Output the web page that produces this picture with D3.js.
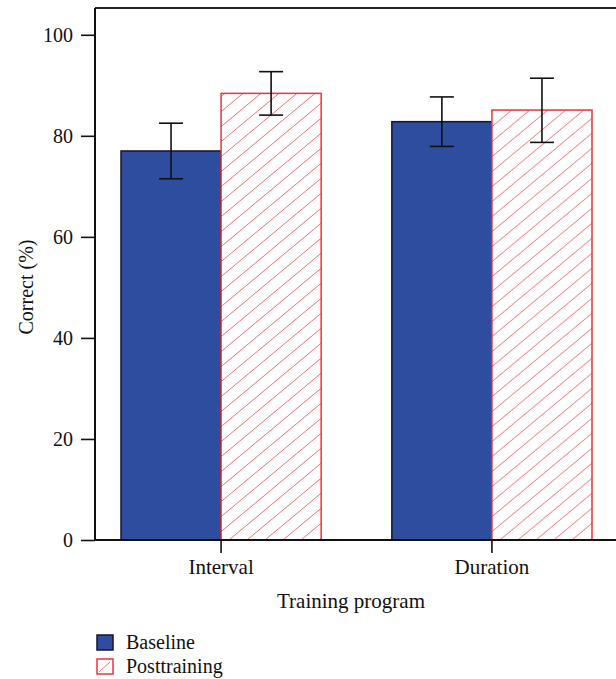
<!DOCTYPE html>
<html>
<head>
<meta charset="utf-8">
<script src="https://cdn.jsdelivr.net/npm/d3@7"></script>
<style>
  html, body { margin: 0; padding: 0; background: #fff; }
  svg { display: block; }
  text { font-family: "Liberation Serif", "DejaVu Serif", serif; fill: #111; }
</style>
</head>
<body>
<svg id="chart" width="616" height="679"></svg>
<script>
const categories = ["Interval", "Duration"];
const series = ["Baseline", "Posttraining"];
const baselineValues = [77.0, 82.8];
const posttrainingValues = [88.4, 85.1];
const baselineLow = [71.5, 77.9];
const baselineHigh = [82.5, 87.7];
const posttrainingLow = [84.1, 78.7];
const posttrainingHigh = [92.7, 91.4];
const yTicks = [0, 20, 40, 60, 80, 100];

const svg = d3.select("#chart");
const mLeft = 95, mRight = 618, mTop = 8, mBottom = 540;

const defs = svg.append("defs");
const pat = defs.append("pattern")
  .attr("id", "hatch")
  .attr("patternUnits", "userSpaceOnUse")
  .attr("width", 18).attr("height", 15);
pat.append("rect").attr("width", 18).attr("height", 15).attr("fill", "#fff");
pat.append("path")
  .attr("d", "M0,15L18,0M-9,7.5L9,-7.5M9,22.5L27,7.5")
  .attr("stroke", "#f07070").attr("stroke-width", 1).attr("fill", "none");

const x0 = d3.scaleBand().domain(categories).range([mLeft, mRight])
  .paddingInner(0.261).paddingOuter(0.096);
const x1 = d3.scaleBand().domain(series).range([0, x0.bandwidth()]).padding(0);
const y = d3.scaleLinear().domain([0, 105.3]).range([mBottom, mTop]);

const data = categories.map((c, i) => ({
  category: c,
  values: [
    { s: "Baseline", v: baselineValues[i], lo: baselineLow[i], hi: baselineHigh[i] },
    { s: "Posttraining", v: posttrainingValues[i], lo: posttrainingLow[i], hi: posttrainingHigh[i] }
  ]
}));

// bars
const groups = svg.append("g").selectAll("g").data(data).join("g")
  .attr("transform", d => `translate(${x0(d.category)},0)`);

groups.selectAll("rect").data(d => d.values).join("rect")
  .attr("x", d => x1(d.s))
  .attr("y", d => y(d.v))
  .attr("width", x1.bandwidth())
  .attr("height", d => y(0) - y(d.v))
  .attr("fill", d => d.s === "Baseline" ? "#2e4d9f" : "url(#hatch)")
  .attr("stroke", d => d.s === "Baseline" ? "#15152a" : "#e4373d")
  .attr("stroke-width", 1.5);

// error bars
const cap = 12;
groups.selectAll("g.err").data(d => d.values).join("g").attr("class", "err")
  .each(function(d) {
    const g = d3.select(this);
    const cx = x1(d.s) + x1.bandwidth() / 2;
    g.append("line").attr("x1", cx).attr("x2", cx).attr("y1", y(d.lo)).attr("y2", y(d.hi));
    g.append("line").attr("x1", cx - cap).attr("x2", cx + cap).attr("y1", y(d.lo)).attr("y2", y(d.lo));
    g.append("line").attr("x1", cx - cap).attr("x2", cx + cap).attr("y1", y(d.hi)).attr("y2", y(d.hi));
  })
  .selectAll("line").attr("stroke", "#111").attr("stroke-width", 1.6);

// frame: top line
svg.append("line").attr("x1", mLeft).attr("x2", 616).attr("y1", mTop).attr("y2", mTop)
  .attr("stroke", "#222").attr("stroke-width", 2);

// y axis
const yAxis = svg.append("g").attr("transform", `translate(${mLeft},0)`)
  .call(d3.axisLeft(y).tickValues(yTicks).tickSize(14).tickPadding(8).tickFormat(d3.format("d")));
yAxis.select(".domain").attr("d", `M0,${mTop}V${mBottom}`).attr("stroke", "#111").attr("stroke-width", 2);
yAxis.selectAll(".tick line").attr("stroke", "#111").attr("stroke-width", 1.6);
yAxis.selectAll(".tick text").style("font-size", "20px").attr("fill", "#111")
  .style("font-family", '"Liberation Serif", serif');

// x axis
const xAxis = svg.append("g").attr("transform", `translate(0,${mBottom})`)
  .call(d3.axisBottom(x0).tickSize(13).tickPadding(6));
xAxis.select(".domain").attr("d", `M${mLeft},0H616`).attr("stroke", "#111").attr("stroke-width", 2.2);
xAxis.selectAll(".tick line").attr("stroke", "#111").attr("stroke-width", 1.6);
xAxis.selectAll(".tick text").style("font-size", "21px").attr("fill", "#111")
  .style("font-family", '"Liberation Serif", serif');

// axis titles
svg.append("text").attr("x", 351).attr("y", 608).attr("text-anchor", "middle")
  .style("font-size", "21px").text("Training program");
svg.append("text").attr("transform", "translate(33,287) rotate(-90)").attr("text-anchor", "middle")
  .style("font-size", "20px").text("Correct (%)");

// legend
const legend = svg.append("g").attr("transform", "translate(97,635)");
const li = legend.selectAll("g").data(series).join("g")
  .attr("transform", (d, i) => `translate(0,${i * 24})`);
li.append("rect").attr("width", 16).attr("height", 15)
  .attr("fill", d => d === "Baseline" ? "#2e4d9f" : "#fff")
  .attr("stroke", d => d === "Baseline" ? "#15152a" : "#e4373d")
  .attr("stroke-width", 1.5);
li.filter(d => d !== "Baseline").append("line")
  .attr("x1", 2).attr("y1", 13).attr("x2", 13).attr("y2", 3)
  .attr("stroke", "#f07070").attr("stroke-width", 1);
li.append("text").attr("x", 29).attr("y", 14).style("font-size", "20px").text(d => d);
</script>
</body>
</html>
